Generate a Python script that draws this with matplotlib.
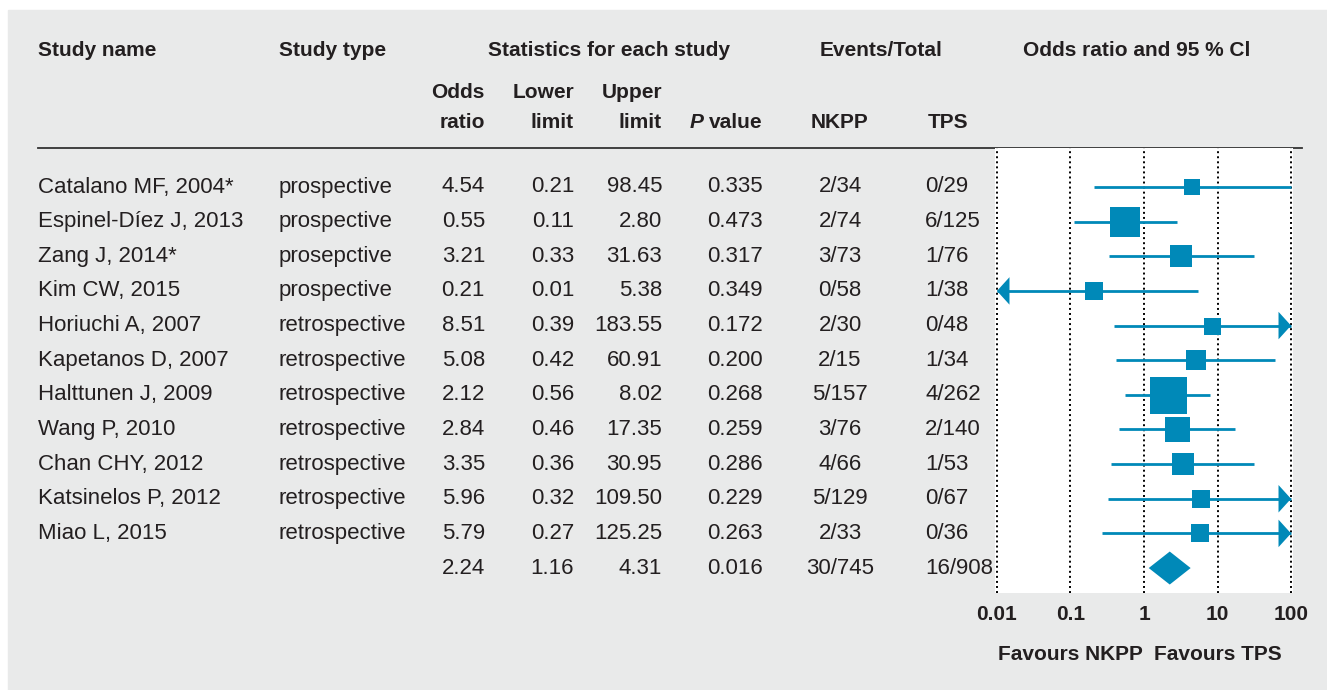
import numpy as np
import matplotlib
matplotlib.use('Agg')
import matplotlib.pyplot as plt
from matplotlib.patches import Rectangle, Polygon

plt.rcParams['font.family'] = ['Liberation Sans', 'DejaVu Sans']

# ---- data ----
names = ['Catalano MF, 2004*', 'Espinel-Díez J, 2013', 'Zang J, 2014*', 'Kim CW, 2015',
         'Horiuchi A, 2007', 'Kapetanos D, 2007', 'Halttunen J, 2009', 'Wang P, 2010',
         'Chan CHY, 2012', 'Katsinelos P, 2012', 'Miao L, 2015']
types = ['prospective', 'prospective', 'prosepctive', 'prospective',
         'retrospective', 'retrospective', 'retrospective', 'retrospective',
         'retrospective', 'retrospective', 'retrospective']
odds = [4.54, 0.55, 3.21, 0.21, 8.51, 5.08, 2.12, 2.84, 3.35, 5.96, 5.79]
lower = [0.21, 0.11, 0.33, 0.01, 0.39, 0.42, 0.56, 0.46, 0.36, 0.32, 0.27]
upper = [98.45, 2.80, 31.63, 5.38, 183.55, 60.91, 8.02, 17.35, 30.95, 109.50, 125.25]
pvals = [0.335, 0.473, 0.317, 0.349, 0.172, 0.200, 0.268, 0.259, 0.286, 0.229, 0.263]
nkpp = ['2/34', '2/74', '3/73', '0/58', '2/30', '2/15', '5/157', '3/76', '4/66', '5/129', '2/33']
tps = ['0/29', '6/125', '1/76', '1/38', '0/48', '1/34', '4/262', '2/140', '1/53', '0/67', '0/36']
# relative weight -> square side in pixels
box_px = [16, 30, 22, 18, 17, 20, 37, 25, 23, 18, 18]

sum_odds, sum_lower, sum_upper, sum_p = 2.24, 1.16, 4.31, 0.016
sum_nkpp, sum_tps = '30/745', '16/908'

ticks = [0.01, 0.1, 1, 10, 100]
tick_labels = ['0.01', '0.1', '1', '10', '100']

W, H = 1327, 690
BLUE = '#0089b8'
TXT = '#231f20'
FS = 16
FSB = 15

fig = plt.figure(figsize=(W / 100, H / 100), dpi=100, facecolor='white')
bg = fig.add_axes([0, 0, 1, 1])
bg.set_xlim(0, W)
bg.set_ylim(H, 0)
bg.axis('off')
bg.add_patch(Rectangle((8, 10), W - 8, H - 10, color='#e9eaea', zorder=0))

row0, dy = 187, 34.64
rows_y = [row0 + i * dy for i in range(len(names) + 1)]

# headers
hd = dict(fontsize=FSB, fontweight='bold', color=TXT, va='center')
bg.text(38, 50, 'Study name', ha='left', **hd)
bg.text(279, 50, 'Study type', ha='left', **hd)
bg.text(609, 50, 'Statistics for each study', ha='center', **hd)
bg.text(881, 50, 'Events/Total', ha='center', **hd)
bg.text(1137, 50, 'Odds ratio and 95 % Cl', ha='center', **hd)
bg.text(485, 93, 'Odds', ha='right', **hd)
bg.text(485, 122, 'ratio', ha='right', **hd)
bg.text(574, 93, 'Lower', ha='right', **hd)
bg.text(574, 122, 'limit', ha='right', **hd)
bg.text(662, 93, 'Upper', ha='right', **hd)
bg.text(662, 122, 'limit', ha='right', **hd)
bg.text(703, 122, 'P', ha='right', fontstyle='italic', **hd)
bg.text(763, 122, 'value', ha='right', **hd)
bg.text(840, 122, 'NKPP', ha='center', **hd)
bg.text(948, 122, 'TPS', ha='center', **hd)
bg.plot([38, 1302], [148, 148], color='#333333', lw=1.3)

# table body
bd = dict(fontsize=FS, color=TXT, va='center')
for i in range(len(names)):
    y = rows_y[i]
    bg.text(38, y, names[i], ha='left', **bd)
    bg.text(279, y, types[i], ha='left', **bd)
    bg.text(485, y, f'{odds[i]:.2f}', ha='right', **bd)
    bg.text(574, y, f'{lower[i]:.2f}', ha='right', **bd)
    bg.text(662, y, f'{upper[i]:.2f}', ha='right', **bd)
    bg.text(763, y, f'{pvals[i]:.3f}', ha='right', **bd)
    bg.text(840, y, nkpp[i], ha='center', **bd)
    bg.text(925, y, tps[i], ha='left', **bd)
y = rows_y[-1]
bg.text(485, y, f'{sum_odds:.2f}', ha='right', **bd)
bg.text(574, y, f'{sum_lower:.2f}', ha='right', **bd)
bg.text(662, y, f'{sum_upper:.2f}', ha='right', **bd)
bg.text(763, y, f'{sum_p:.3f}', ha='right', **bd)
bg.text(840, y, sum_nkpp, ha='center', **bd)
bg.text(925, y, sum_tps, ha='left', **bd)

bg.text(1070, 655, 'Favours NKPP', ha='center', **hd)
bg.text(1218, 655, 'Favours TPS', ha='center', **hd)

# forest plot
x0, x1, ytop, ybot = 995, 1293, 148, 593
ax = fig.add_axes([x0 / W, 1 - ybot / H, (x1 - x0) / W, (ybot - ytop) / H])
ax.set_facecolor('white')
ax.set_xscale('log')
ax.set_xlim(10 ** -2.027, 10 ** 2.027)
ax.set_ylim(11 + (ybot - rows_y[-1]) / dy, -(rows_y[0] - ytop) / dy)
for s in ax.spines.values():
    s.set_visible(False)
for t in ticks:
    ax.axvline(t, color='black', lw=1.4, ls=(0, (1, 1.6)), zorder=1)
ax.set_xticks(ticks)
ax.set_xticklabels(tick_labels, fontsize=FSB, fontweight='bold', color=TXT)
ax.minorticks_off()
ax.tick_params(axis='x', length=0, pad=9)
ax.set_yticks([])

lo_lim, hi_lim = ticks[0], ticks[-1]
arrow = dict(arrowstyle='-|>,head_length=0.5,head_width=0.55',
             color=BLUE, lw=0, shrinkA=0, shrinkB=0, mutation_scale=18)
for i in range(len(names)):
    lo = max(lower[i], lo_lim)
    hi = min(upper[i], hi_lim)
    ax.plot([lo, hi], [i, i], color=BLUE, lw=2.0, solid_capstyle='butt', zorder=2)
    if lower[i] <= lo_lim:
        ax.annotate('', xy=(lo_lim, i), xytext=(odds[i], i), arrowprops=arrow)
    if upper[i] > hi_lim:
        ax.annotate('', xy=(hi_lim, i), xytext=(odds[i], i), arrowprops=arrow)
    ax.scatter([odds[i]], [i], marker='s', s=(box_px[i] * 0.72) ** 2, color=BLUE,
               linewidths=0, zorder=3)

ys = len(names)
hh = 16.5 / dy
ax.add_patch(Polygon([(sum_lower, ys), (sum_odds, ys - hh), (sum_upper, ys), (sum_odds, ys + hh)],
                     closed=True, color=BLUE, lw=0, zorder=3))

fig.savefig('out.png', dpi=100, facecolor='white')
